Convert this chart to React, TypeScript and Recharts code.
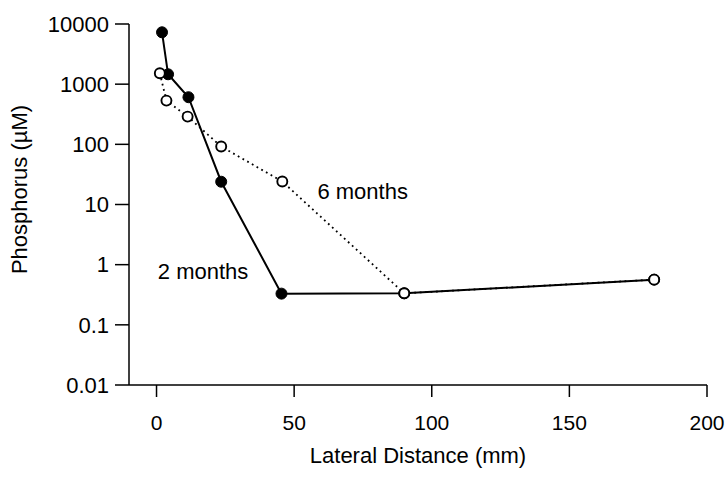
import React from 'react';
import { ComposedChart, Line, XAxis, YAxis, ReferenceDot } from 'recharts';

const distance2 = [2, 4.2, 11.6, 23.5, 45.4, 90, 180.8];
const phosphorus2 = [7280, 1460, 607, 23.9, 0.33, 0.334, 0.564];
const distance6 = [1.2, 3.6, 11.3, 23.5, 45.7, 90, 180.8];
const phosphorus6 = [1517, 533, 289, 92, 24.1, 0.334, 0.564];

const xTicks = [0, 50, 100, 150, 200];
const yTicks = [0.01, 0.1, 1, 10, 100, 1000, 10000];

const seriesLabels = ['2 months', '6 months'];
const labelX = [16.9, 74.9];
const labelY = [0.77, 16.9];

const data2 = distance2.map((x, i) => ({ x, y: phosphorus2[i] }));
const data6 = distance6.map((x, i) => ({ x, y: phosphorus6[i] }));

const FONT = '"Liberation Sans", Arial, Helvetica, sans-serif';

const FilledDot = (p: any) => (
  <circle cx={p.cx} cy={p.cy} r={5.5} fill="#000" stroke="#000" strokeWidth={1} />
);
const OpenDot = (p: any) => (
  <circle cx={p.cx} cy={p.cy} r={5} fill="#fff" stroke="#000" strokeWidth={1.9} />
);

export default function App() {
  return (
    <div style={{ position: 'absolute', left: 0, top: 0, width: 728, height: 480, background: '#fff' }}>
      <ComposedChart
        width={728}
        height={480}
        margin={{ top: 24, right: 21, bottom: 15, left: 0 }}
        style={{ overflow: 'visible' }}
      >
        <XAxis
          type="number"
          dataKey="x"
          domain={[-10, 200]}
          ticks={xTicks}
          allowDataOverflow
          height={80}
          tickSize={12}
          tickMargin={18}
          stroke="#000"
          strokeWidth={1.5}
          tick={{ fill: '#000', fontSize: 21, fontFamily: FONT }}
          label={{
            value: 'Lateral Distance (mm)',
            position: 'insideBottom',
            offset: 2,
            fill: '#000',
            fontSize: 22,
            fontFamily: FONT,
          }}
        />
        <YAxis
          type="number"
          dataKey="y"
          scale="log"
          domain={[0.01, 10000]}
          ticks={yTicks}
          allowDataOverflow
          width={129}
          tickSize={14}
          tickMargin={6}
          stroke="#000"
          strokeWidth={1.5}
          tickFormatter={(v: number) => String(v)}
          tick={{ fill: '#000', fontSize: 22, fontFamily: FONT }}
          label={{
            content: (props: any) => {
              const vb = props.viewBox || { x: 0, y: 24, width: 129, height: 361 };
              const cx = vb.x + 19;
              const cy = vb.y + vb.height / 2 - 15;
              return (
                <text
                  x={cx}
                  y={cy}
                  transform={`rotate(-90 ${cx} ${cy})`}
                  textAnchor="middle"
                  dominantBaseline="central"
                  fill="#000"
                  fontSize={22}
                  fontFamily={FONT}
                >
                  Phosphorus (µM)
                </text>
              );
            },
          }}
        />
        <Line
          data={data2}
          dataKey="y"
          type="linear"
          stroke="#000"
          strokeWidth={2}
          dot={<FilledDot />}
          activeDot={false}
          isAnimationActive={false}
        />
        <Line
          data={data6}
          dataKey="y"
          type="linear"
          stroke="#000"
          strokeWidth={1.8}
          strokeDasharray="1.8 3.6"
          dot={<OpenDot />}
          activeDot={false}
          isAnimationActive={false}
        />
        {seriesLabels.map((t, i) => (
          <ReferenceDot
            key={t}
            x={labelX[i]}
            y={labelY[i]}
            r={1}
            fill="none"
            stroke="none"
            label={{ value: t, position: 'center', fill: '#000', fontSize: 22, fontFamily: FONT }}
          />
        ))}
      </ComposedChart>
    </div>
  );
}
